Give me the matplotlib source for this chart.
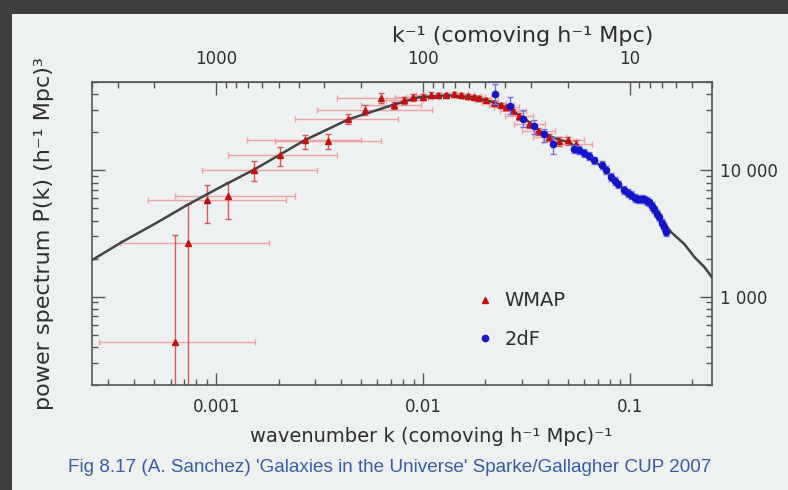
import numpy as np
import matplotlib
matplotlib.use("Agg")
import matplotlib.pyplot as plt
from matplotlib.ticker import FixedLocator, FixedFormatter, LogLocator, NullFormatter
from matplotlib.patches import Rectangle
from matplotlib.lines import Line2D

# ---------------- data ----------------
# theoretical model curve
curve_k = [2.54e-4, 3.47e-4, 5.0e-4, 7.32e-4, 1.05e-3, 1.53e-3, 2.67e-3, 4.35e-3,
           7.26e-3, 9.49e-3, 1.325e-2, 1.77e-2, 2.21e-2, 2.67e-2, 3.09e-2, 3.86e-2,
           4.5e-2, 5.05e-2, 6.31e-2, 8.15e-2, 9.42e-2, 0.118, 0.142, 0.159, 0.184,
           0.206, 0.230, 0.254]
curve_P = [1977, 2693, 3750, 5385, 7400, 10180, 17280, 25300,
           33200, 37800, 39200, 37800, 34500, 29900, 25800, 19300,
           17600, 16700, 13400, 8810, 6950, 5900, 4090, 3230, 2600,
           2050, 1710, 1375]

# WMAP points
wmap_k = [6.33e-4, 7.32e-4, 9.05e-4, 1.143e-3, 1.527e-3, 2.04e-3, 2.67e-3, 3.48e-3,
          4.35e-3, 5.26e-3, 6.28e-3, 7.26e-3, 8.12e-3, 8.97e-3, 1.002e-2, 1.096e-2,
          1.186e-2, 1.297e-2, 1.417e-2, 1.532e-2, 1.656e-2, 1.77e-2, 1.87e-2, 2.02e-2,
          2.21e-2, 2.39e-2, 2.53e-2, 2.73e-2, 2.92e-2, 3.27e-2, 3.61e-2, 4.08e-2,
          4.56e-2, 5.04e-2, 5.52e-2]
wmap_P = [435, 2645, 5795, 6225, 10000, 13140, 17270, 16950,
          25300, 29840, 37150, 32700, 35800, 37900, 37900, 39200,
          39200, 39200, 39900, 39200, 38500, 37900, 37150, 35800,
          33900, 32700, 31500, 29300, 26700, 23100, 20350, 18250,
          16950, 17270, 16070]
wmap_klo = [2.69e-4, 3.43e-4, 4.69e-4, 6.27e-4, 8.56e-4, 1.14e-3, 1.40e-3, 1.91e-3,
            2.41e-3, 3.08e-3, 3.85e-3, 5.03e-3, 6.6e-3, 7.3e-3, 8.3e-3, 9.2e-3,
            1.0e-2, 1.1e-2, 1.22e-2, 1.33e-2, 1.45e-2, 1.56e-2, 1.65e-2, 1.78e-2,
            1.93e-2, 2.08e-2, 2.2e-2, 2.36e-2, 2.5e-2, 2.75e-2, 3.0e-2, 3.4e-2,
            3.8e-2, 4.2e-2, 4.6e-2]
wmap_khi = [1.53e-3, 1.79e-3, 2.18e-3, 2.41e-3, 3.08e-3, 3.85e-3, 5.03e-3, 6.28e-3,
            7.60e-3, 1.10e-2, 1.06e-2, 9.8e-3, 1.0e-2, 1.1e-2, 1.2e-2, 1.3e-2,
            1.4e-2, 1.5e-2, 1.65e-2, 1.77e-2, 1.9e-2, 2.0e-2, 2.12e-2, 2.3e-2,
            2.52e-2, 2.75e-2, 2.9e-2, 3.15e-2, 3.4e-2, 3.9e-2, 4.35e-2, 4.9e-2,
            5.5e-2, 6.0e-2, 6.6e-2]
wmap_Plo = [50, 50, 3810, 4090, 8180, 10760, 14660, 14660,
            23100, 27240, 33900, 30500, 33500, 35600, 35800, 37200,
            37300, 37400, 38100, 37500, 36900, 36300, 35600, 34300,
            32400, 31200, 30000, 27800, 25200, 21700, 19000, 17000,
            15700, 16000, 14900]
wmap_Phi = [3060, 5380, 7610, 8040, 11780, 15200, 18920, 19270,
            27730, 32700, 40650, 35000, 38200, 40300, 40000, 41300,
            41200, 41100, 41700, 40900, 40100, 39500, 38700, 37300,
            35400, 34200, 33000, 30800, 28200, 24500, 21700, 19500,
            18200, 18500, 17300]

# 2dF points
tdf_k = [0.0224, 0.0264, 0.0305, 0.0345, 0.0386, 0.0427, 0.0540, 0.0571, 0.0603,
         0.0636, 0.0675, 0.0730, 0.0770, 0.0815, 0.0850, 0.0881, 0.0942, 0.0980,
         0.1019, 0.1060, 0.1101, 0.1140, 0.1177, 0.1210, 0.1245, 0.1280, 0.1316,
         0.1350, 0.1391, 0.1430, 0.1470, 0.1503]
tdf_P = [39900, 32060, 25300, 22290, 19280, 16070, 14660, 14400, 13700,
         12900, 11990, 10950, 10100, 8810, 8200, 7740, 6950, 6600,
         6340, 6050, 5900, 5950, 5900, 5700, 5580, 5200, 4910,
         4550, 4250, 3850, 3540, 3230]
tdf_Plo = [33270, 27740, 21860, 19280, 16680, 13390, 13600, 13400, 12750,
           12000, 11150, 10200, 9400, 8200, 7650, 7200, 6480, 6150,
           5900, 5650, 5500, 5550, 5500, 5320, 5200, 4850, 4580,
           4250, 3970, 3600, 3300, 3020]
tdf_Phi = [47860, 37850, 29840, 24900, 21100, 18240, 15800, 15450, 14700,
           13850, 12850, 11750, 10850, 9450, 8800, 8300, 7450, 7080,
           6800, 6480, 6320, 6380, 6320, 6100, 5980, 5570, 5260,
           4880, 4550, 4120, 3800, 3460]

xticks = [0.001, 0.01, 0.1]
xticklabels = ["0.001", "0.01", "0.1"]
yticks = [1000, 10000]
yticklabels = ["1 000", "10 000"]
topticks = [10, 100, 1000]
toptick_labels = ["10", "100", "1000"]

# ---------------- figure ----------------
plt.rcParams['font.family'] = ['DejaVu Sans']
W, H = 788, 490
fig = plt.figure(figsize=(W / 100, H / 100), dpi=100, facecolor="#3e3e3e")
fig.patches.append(Rectangle((12 / W, 0), 1 - 12 / W, 1 - 14 / H,
                             transform=fig.transFigure, facecolor="#eef1f1",
                             edgecolor="none", zorder=-10))

ax = fig.add_axes([92 / W, 1 - 385 / H, (712 - 92) / W, (385 - 82) / H])
ax.set_zorder(1)
ax.set_facecolor("none")
ax.set_xscale("log")
ax.set_yscale("log")

txtc = "#2e2e2e"
framec = "#555555"

ax.plot(curve_k, curve_P, color="#444444", lw=1.8, zorder=3)

wk = np.array(wmap_k); wp = np.array(wmap_P)
xerr = [wk - np.array(wmap_klo), np.array(wmap_khi) - wk]
yerr = [wp - np.array(wmap_Plo), np.array(wmap_Phi) - wp]
ax.errorbar(wk, wp, xerr=xerr, fmt="none", ecolor="#f3a0a0", elinewidth=1.0,
            capsize=2, capthick=1.0, zorder=2)
ax.errorbar(wk, wp, yerr=yerr, fmt="none", ecolor="#d65858", elinewidth=1.0,
            capsize=2, capthick=1.0, zorder=2)
ax.plot(wk, wp, ls="none", marker="^", ms=5, color="#c01010", zorder=4)

tk = np.array(tdf_k); tp = np.array(tdf_P)
tyerr = [tp - np.array(tdf_Plo), np.array(tdf_Phi) - tp]
ax.errorbar(tk, tp, yerr=tyerr, fmt="none", ecolor="#7070f0", elinewidth=1.0,
            capsize=2, capthick=1.0, zorder=4)
ax.plot(tk, tp, ls="none", marker="o", ms=4.5, color="#1414c8", zorder=5)

ax.set_xlim(2.5e-4, 0.25)
ax.set_ylim(200, 50000)

for s in ax.spines.values():
    s.set_color(framec)
    s.set_linewidth(1.2)

ax.xaxis.set_major_locator(FixedLocator(xticks))
ax.xaxis.set_major_formatter(FixedFormatter(xticklabels))
ax.xaxis.set_minor_locator(LogLocator(base=10, subs=np.arange(2, 10)))
ax.xaxis.set_minor_formatter(NullFormatter())
ax.yaxis.set_major_locator(FixedLocator(yticks))
ax.yaxis.set_major_formatter(FixedFormatter(yticklabels))
ax.yaxis.set_minor_locator(LogLocator(base=10, subs=np.arange(2, 10)))
ax.yaxis.set_minor_formatter(NullFormatter())

ax.tick_params(axis="both", which="both", direction="in", color=framec, width=1.0)
ax.tick_params(axis="both", which="major", length=9, labelsize=12, labelcolor=txtc)
ax.tick_params(axis="both", which="minor", length=4)
ax.tick_params(axis="y", which="both", left=True, right=True,
               labelleft=False, labelright=True, pad=6)
ax.tick_params(axis="x", which="both", bottom=True, top=False, pad=9)

ax.set_xlabel("wavenumber k (comoving h\u207b\u00b9 Mpc)\u207b\u00b9", fontsize=14,
              color=txtc, labelpad=8, x=(431 - 92) / 620, ha="center")
ax.set_ylabel("power spectrum P(k) (h\u207b\u00b9 Mpc)\u00b3", fontsize=16,
              color=txtc, labelpad=27)

sec = ax.secondary_xaxis("top", functions=(lambda k: 1.0 / k, lambda r: 1.0 / r))
sec.set_xticks(topticks)
sec.set_xticklabels(toptick_labels)
sec.xaxis.set_minor_locator(LogLocator(base=10, subs=np.arange(2, 10)))
sec.xaxis.set_minor_formatter(NullFormatter())
sec.tick_params(axis="x", which="both", direction="in", color=framec, width=1.0)
sec.tick_params(axis="x", which="major", length=9, labelsize=12, labelcolor=txtc, pad=10)
sec.tick_params(axis="x", which="minor", length=4)
sec.spines["top"].set_color(framec)
sec.set_xlabel("k\u207b\u00b9 (comoving h\u207b\u00b9 Mpc)", fontsize=16, color=txtc,
               labelpad=6, x=(523 - 92) / 620, ha="center")

handles = [Line2D([], [], ls="none", marker="^", ms=5, color="#c01010"),
           Line2D([], [], ls="none", marker="o", ms=4.5, color="#1414c8")]
ax.legend(handles, ["WMAP", "2dF"], loc="upper left",
          bbox_to_anchor=((456 - 92) / 620, 1 - (274 - 82) / 303),
          frameon=False, fontsize=14, labelspacing=1.0, handletextpad=0.4,
          handlelength=1.2, labelcolor=txtc)

fig.text(390 / W, 1 - 467 / H,
         "Fig 8.17 (A. Sanchez) 'Galaxies in the Universe' Sparke/Gallagher CUP 2007",
         ha="center", va="center", fontsize=13.6, color="#3a5ba6",
         family=["Liberation Sans Narrow", "Liberation Sans", "DejaVu Sans"])

fig.savefig("out.png", dpi=100, facecolor=fig.get_facecolor())
